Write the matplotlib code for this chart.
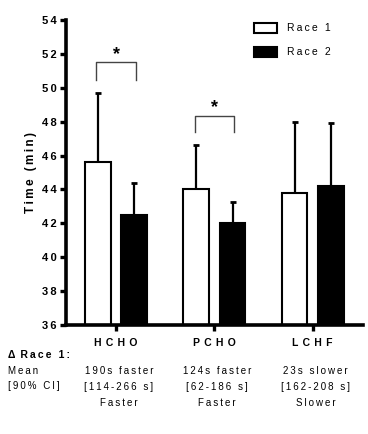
import matplotlib
matplotlib.use('Agg')
import matplotlib.pyplot as plt
import numpy as np

categories = ['HCHO', 'PCHO', 'LCHF']
race1 = [45.6, 44.05, 43.8]
race2 = [42.5, 42.0, 44.2]
race1_err = [4.1, 2.6, 4.2]
race2_err = [1.9, 1.25, 3.75]

# significance brackets: category index, bracket height, drop height
sig_idx = [0, 1]
sig_top = [51.5, 48.35]
sig_low = [50.45, 47.4]

delta_mean = ['190s faster', '124s faster', '23s slower']
delta_ci = ['[114-266 s]', '[62-186 s]', '[162-208 s]']
delta_word = ['Faster', 'Faster', 'Slower']

FAM = ['Liberation Sans', 'DejaVu Sans']


def sp(s, n=1):
    # fake letter spacing with thin spaces
    return ('\u2009' * n).join(s)


plt.rcParams['font.family'] = FAM

fig = plt.figure(figsize=(3.68, 4.34), dpi=100)
ax = fig.add_axes([0.179, 0.251, 0.807, 0.703])

x = np.arange(len(categories))
w = 0.26
off = 0.185

ax.bar(x - off, np.array(race1) - 36, w, bottom=36, color='white',
       edgecolor='black', linewidth=1.5, zorder=2)
ax.bar(x + off, np.array(race2) - 36, w, bottom=36, color='black',
       edgecolor='black', linewidth=1.5, zorder=2)
ax.errorbar(x - off, race1, yerr=[np.zeros(3), race1_err], fmt='none',
            ecolor='black', elinewidth=1.6, capsize=2.5, capthick=2, zorder=1)
ax.errorbar(x + off, race2, yerr=[np.zeros(3), race2_err], fmt='none',
            ecolor='black', elinewidth=1.6, capsize=2.5, capthick=2, zorder=1)

for i, t, lo in zip(sig_idx, sig_top, sig_low):
    ax.plot([i - 0.2, i - 0.2, i + 0.2, i + 0.2], [lo, t, t, lo],
            color='#444444', lw=1.0)
    ax.text(i, t - 0.05, '*', ha='center', va='bottom', fontsize=13,
            fontweight='bold')

ax.set_xlim(-0.51, 2.51)
ax.set_ylim(36, 54)
ax.set_yticks(np.arange(36, 55, 2))
ax.set_yticklabels([sp(str(v)) for v in range(36, 55, 2)],
                   fontweight='bold', fontsize=8)
ax.set_xticks(x)
ax.set_xticklabels([sp(c, 2) for c in categories], fontweight='bold',
                   fontsize=7.5)
ax.tick_params(axis='both', width=2.4, length=4.5, direction='out', pad=2)
ax.tick_params(axis='x', pad=5)
for s in ['top', 'right']:
    ax.spines[s].set_visible(False)
for s in ['left', 'bottom']:
    ax.spines[s].set_linewidth(2.6)
ax.set_ylabel(sp('Time (min)'), fontweight='bold', fontsize=8.5, labelpad=4)

# legend drawn as patches
ax.bar([1.518], [0.63], 0.234, bottom=[53.21], color='white',
       edgecolor='black', linewidth=1.5, clip_on=False)
ax.bar([1.518], [0.63], 0.234, bottom=[51.79], color='black',
       edgecolor='black', linewidth=1.5, clip_on=False)
ax.text(1.736, 53.5, sp('Race 1'), va='center', fontsize=7.5)
ax.text(1.736, 52.1, sp('Race 2'), va='center', fontsize=7.5)

# delta table under the axes
trans = ax.get_xaxis_transform()
rows_y = [-0.152, -0.203, -0.255]
for i in range(3):
    ax.text(i + 0.03, rows_y[0], sp(delta_mean[i]), ha='center', va='center',
            fontsize=7, transform=trans)
    ax.text(i + 0.03, rows_y[1], sp(delta_ci[i]), ha='center', va='center',
            fontsize=7, transform=trans)
    ax.text(i + 0.03, rows_y[2], sp(delta_word[i]), ha='center', va='center',
            fontsize=7, transform=trans)

fig.text(0.022, 1 - 355 / 434, '\u0394\u2009 ' + sp('Race 1:'),
         fontweight='bold', fontsize=7.5, va='center')
fig.text(0.022, 1 - 371 / 434, sp('Mean'), fontsize=7, va='center')
fig.text(0.022, 1 - 386 / 434, sp('[90% CI]'), fontsize=7, va='center')

fig.savefig('out.png', dpi=100)
